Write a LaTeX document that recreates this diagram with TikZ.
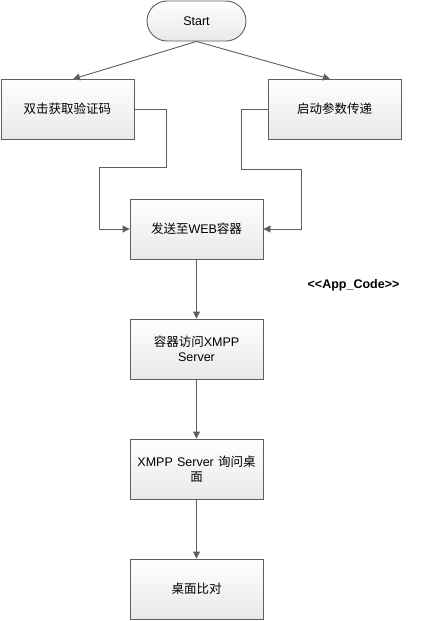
\documentclass[tikz,border=0pt]{standalone}
\usepackage{fontspec}
\setmainfont{Liberation Sans}
\newfontfamily\cjk{Noto Sans CJK SC}
\usetikzlibrary{arrows.meta}
\definecolor{edge}{HTML}{5E5E5E}
\definecolor{shadebot}{HTML}{E8E8E8}
\begin{document}
\begin{tikzpicture}[x=1pt,y=-1pt,
  procbox/.style={draw=edge, line width=0.9pt, top color=white, bottom color=shadebot,
    minimum width=133pt, minimum height=60pt, align=center, text width=128pt,
    font=\fontsize{12.5}{15}\selectfont, inner sep=2pt},
  termbox/.style={procbox, rounded corners=20pt, minimum width=99pt, minimum height=40pt, text width=90pt},
  flow/.style={draw=edge, line width=0.9pt, -{Triangle[length=7pt,width=7pt]}}]
\useasboundingbox (0,0) rectangle (425,621);
\node[termbox] (start) at (196.5,21) {Start};
\node[procbox] (click) at (67.5,109) {{\cjk 双击获取验证码}};
\node[procbox] (param) at (334.5,109) {{\cjk 启动参数传递}};
\node[procbox] (web) at (196.5,229) {{\cjk 发送至}WEB{\cjk 容器}};
\node[procbox] (xmpp) at (196.5,349) {{\cjk 容器访问}XMPP\\Server};
\node[procbox] (ask) at (196.5,469) {XMPP Server {\cjk 询问桌}\\{\cjk 面}};
\node[procbox] (cmp) at (196.5,589) {{\cjk 桌面比对}};
\node[font=\bfseries\fontsize{12.5}{14}\selectfont, inner sep=0pt] (code) at (353.5,285) {{<}{<}App\_Code{>}{>}};
\draw[flow] (start.south) -- (73,79);
\draw[flow] (start.south) -- (330,79);
\draw[flow] (click.east) -- (166,109) -- (166,167) -- (99,167) -- (99,229) -- (web.west);
\draw[flow] (param.west) -- (241,109) -- (241,169) -- (301,169) -- (301,229) -- (web.east);
\draw[flow] (web) -- (xmpp);
\draw[flow] (xmpp) -- (ask);
\draw[flow] (ask) -- (cmp);
\end{tikzpicture}
\end{document}
